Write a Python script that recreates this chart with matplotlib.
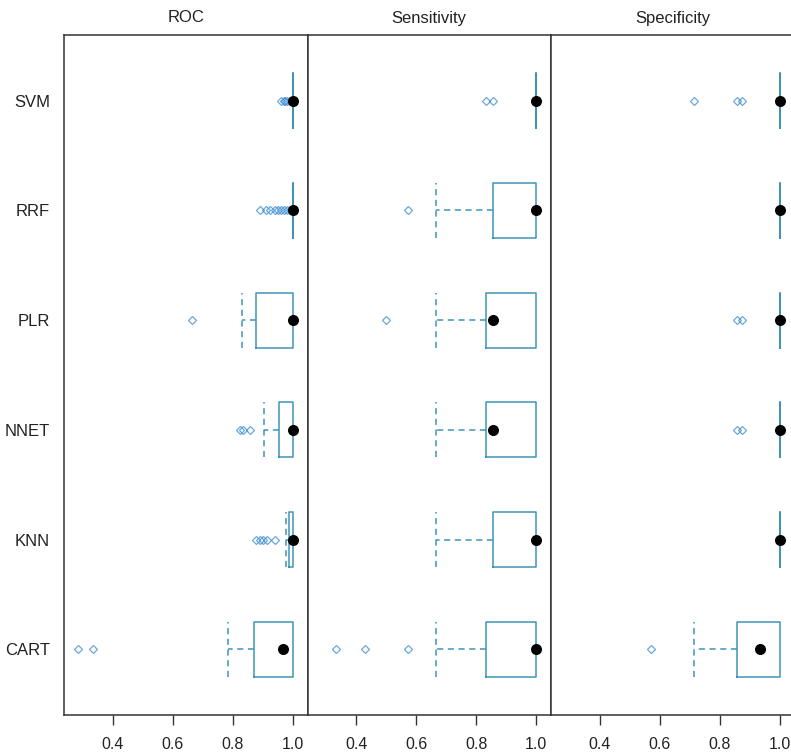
import matplotlib
matplotlib.use("Agg")
import matplotlib.pyplot as plt

plt.rcParams['font.family'] = ['Liberation Sans', 'DejaVu Sans']

# models listed bottom to top (CART at y=1, SVM at y=6)
models = ['CART', 'KNN', 'NNET', 'PLR', 'RRF', 'SVM']
metrics = ['ROC', 'Sensitivity', 'Specificity']
ticks = [0.4, 0.6, 0.8, 1.0]

# per metric: lists in the order of `models`
roc_q1 = [0.870, 0.987, 0.953, 0.877, 1.0, 1.0]
roc_med = [0.967, 1.0, 1.0, 1.0, 1.0, 1.0]
roc_q3 = [1.0, 1.0, 1.0, 1.0, 1.0, 1.0]
roc_lo = [0.783, 0.977, 0.903, 0.830, 1.0, 1.0]
roc_hi = [1.0, 1.0, 1.0, 1.0, 1.0, 1.0]
roc_out = [[0.283, 0.333],
           [0.877, 0.890, 0.900, 0.913, 0.940],
           [0.823, 0.833, 0.857],
           [0.663],
           [0.890, 0.910, 0.925, 0.940, 0.950, 0.960, 0.970, 0.980, 0.990],
           [0.960, 0.970, 0.975, 0.980, 0.990]]

sens_q1 = [0.833, 0.857, 0.833, 0.833, 0.857, 1.0]
sens_med = [1.0, 1.0, 0.857, 0.857, 1.0, 1.0]
sens_q3 = [1.0, 1.0, 1.0, 1.0, 1.0, 1.0]
sens_lo = [0.667, 0.667, 0.667, 0.667, 0.667, 1.0]
sens_hi = [1.0, 1.0, 1.0, 1.0, 1.0, 1.0]
sens_out = [[0.333, 0.429, 0.571], [], [], [0.500], [0.571], [0.833, 0.857]]

spec_q1 = [0.857, 1.0, 1.0, 1.0, 1.0, 1.0]
spec_med = [0.933, 1.0, 1.0, 1.0, 1.0, 1.0]
spec_q3 = [1.0, 1.0, 1.0, 1.0, 1.0, 1.0]
spec_lo = [0.714, 1.0, 1.0, 1.0, 1.0, 1.0]
spec_hi = [1.0, 1.0, 1.0, 1.0, 1.0, 1.0]
spec_out = [[0.571], [], [0.857, 0.875], [0.857, 0.875], [], [0.714, 0.857, 0.875]]

panels = [
    (roc_q1, roc_med, roc_q3, roc_lo, roc_hi, roc_out),
    (sens_q1, sens_med, sens_q3, sens_lo, sens_hi, sens_out),
    (spec_q1, spec_med, spec_q3, spec_lo, spec_hi, spec_out),
]

box_col = '#3f94b6'
pt_col = '#3a8ccf'
frame_col = '#333333'
dash = (0, (4, 3))

fig = plt.figure(figsize=(7.91, 7.52), dpi=100)
W, H = 791.0, 752.0
left, pw = 64.0, 243.5
bottom, top = 715.0, 35.0

positions = list(range(1, len(models) + 1))

for i, (name, (q1, med, q3, lo, hi, out)) in enumerate(zip(metrics, panels)):
    ax = fig.add_axes([(left + i * pw) / W, (H - bottom) / H,
                       pw / W, (bottom - top) / H])
    stats = []
    for k in range(len(models)):
        stats.append(dict(q1=q1[k], med=med[k], q3=q3[k],
                          whislo=lo[k], whishi=hi[k], fliers=out[k]))
    parts = ax.bxp(stats, positions=positions, orientation='horizontal',
                   widths=0.5, capwidths=0.5, showfliers=True,
                   boxprops=dict(color=box_col, linewidth=1.1),
                   whiskerprops=dict(color=box_col, linewidth=1.1, linestyle=dash),
                   capprops=dict(color=box_col, linewidth=1.1, linestyle=dash),
                   medianprops=dict(linewidth=0),
                   flierprops=dict(marker='D', markersize=4.5, markerfacecolor='none',
                                   markeredgecolor=pt_col, markeredgewidth=0.9,
                                   alpha=0.75))
    # upper umbrella sits on the box edge at 1.0: hide it so the edge stays solid
    for cap in parts['caps'][1::2]:
        cap.set_visible(False)
    ax.scatter(med, positions, s=48, color='black', zorder=5)

    ax.set_xlim(0.237, 1.049)
    ax.set_ylim(0.4, 6.6)
    ax.set_xticks(ticks)
    ax.set_xticklabels([f'{t:.1f}' for t in ticks])
    ax.tick_params(axis='x', direction='out', length=7, width=1,
                   color=frame_col, labelsize=11.5, labelcolor='#222222', pad=9)
    ax.set_yticks(positions)
    if i == 0:
        ax.set_yticklabels(models)
        ax.tick_params(axis='y', length=0, labelsize=12,
                       labelcolor='#222222', pad=10)
    else:
        ax.set_yticklabels([])
        ax.tick_params(axis='y', length=0)
    for sp in ax.spines.values():
        sp.set_color(frame_col)
        sp.set_linewidth(1.1)
    ax.set_title(name, fontsize=12, color='#222222', pad=9)

fig.savefig('out.png', dpi=100)
